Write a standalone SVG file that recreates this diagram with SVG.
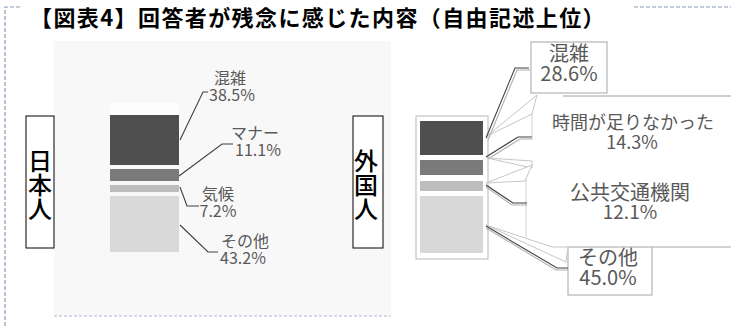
<svg xmlns="http://www.w3.org/2000/svg" width="731" height="326" viewBox="0 0 731 326">
<style>
.frame{stroke:#8a9bbd;stroke-width:1.2;stroke-dasharray:4 2;fill:none}
.lbl{font-family:"Noto Sans CJK JP","Noto Sans",sans-serif;fill:#595959;text-anchor:middle}
.side{font-family:"Noto Sans CJK JP",sans-serif;font-size:24px;font-weight:500;fill:#000;writing-mode:vertical-rl;text-anchor:start}
.lead{stroke:#404040;stroke-width:1.1;fill:none}
.shadow{stroke:#b0b0b0;stroke-width:1.1;fill:none}
.wedge{stroke:#c6c6c6;stroke-width:1;fill:#fff}
.cbox{stroke:#a6a6a6;stroke-width:1;fill:#fff}
</style>
<rect width="731" height="326" fill="#fff"/>
<g id="frame">
<path class="frame" d="M5,326 V7 H22"/>
<path class="frame" d="M634,7 H731"/>
</g>
<text id="title" x="30" y="25.5" font-family="'Noto Sans CJK JP',sans-serif" font-size="22" font-weight="bold" fill="#000" letter-spacing="1.4">【図表4】回答者が残念に感じた内容（自由記述上位）</text>
<g id="panel-left">
<rect x="54" y="41" width="337" height="275" fill="#f8f8f8"/>
<rect x="110" y="103" width="69" height="12" fill="#fdfdfd"/>
<line x1="54" y1="316" x2="391" y2="316" stroke="#c8d0e4" stroke-width="1.5" stroke-dasharray="3 2"/>
</g>
<g id="label-japanese">
<rect x="26" y="116" width="28" height="132" fill="#fff" stroke="#000" stroke-width="1"/>
<text class="side" x="40" y="149">日本人</text>
</g>
<g id="bars-japanese">
<rect x="110" y="115" width="69" height="50" fill="#4f4f4f"/>
<rect x="110" y="169" width="69" height="12" fill="#7a7a7a"/>
<rect x="110" y="185" width="69" height="7" fill="#bdbdbd"/>
<rect x="110" y="196" width="69" height="56" fill="#d9d9d9"/>
</g>
<g id="labels-japanese" font-size="16">
<text class="lbl" y="84"><tspan x="230">混雑</tspan><tspan x="232" dy="17">38.5%</tspan></text>
<text class="lbl" y="139"><tspan x="255">マナー</tspan><tspan x="258" dy="17">11.1%</tspan></text>
<text class="lbl" y="200"><tspan x="218">気候</tspan><tspan x="218" dy="17">7.2%</tspan></text>
<text class="lbl" y="247"><tspan x="245">その他</tspan><tspan x="243" dy="17">43.2%</tspan></text>
</g>
<g id="label-foreign">
<rect x="353" y="116" width="30" height="132" fill="#fff" stroke="#000" stroke-width="1"/>
<text class="side" x="366" y="149">外国人</text>
</g>
<g id="bars-foreign">
<rect x="416" y="116" width="72" height="143" fill="#fff" stroke="#c4c4c4" stroke-width="1.2"/>
<rect x="420" y="121" width="63" height="34" fill="#4f4f4f"/>
<rect x="420" y="160" width="63" height="15" fill="#7a7a7a"/>
<rect x="420" y="181" width="63" height="10" fill="#bdbdbd"/>
<rect x="420" y="196" width="63" height="57" fill="#d8d8d8"/>
</g>
<g id="callouts-foreign">
<rect class="cbox" x="531" y="42" width="76" height="51"/>
<line x1="563" y1="96" x2="731" y2="96" stroke="#bfbfbf" stroke-width="1.5"/>
<line x1="526" y1="165" x2="526" y2="237" stroke="#d0d0d0" stroke-width="1"/>
<rect class="cbox" x="568" y="247" width="84" height="48"/>
<line x1="652" y1="247" x2="731" y2="247" stroke="#a6a6a6" stroke-width="1"/>
</g>
<g id="connectors">
<polygon class="wedge" points="487,136 537,95 532,114"/>
<line x1="532" y1="114" x2="532" y2="137" stroke="#d0d0d0"/>
<polygon class="wedge" points="487,158 532,161 532,168"/>
<polygon class="wedge" points="486,183 532,165 525,181"/>
<polygon class="wedge" points="486,225 552,247 568,247 566,262"/>
<polyline class="shadow" points="488,140 517,70 530,70"/>
<polyline class="lead" points="486,138 515,68 529,68"/>
<polyline class="shadow" points="488,159 520,139 533,139"/>
<polyline class="lead" points="486,157 518,137 532,137"/>
<polyline class="shadow" points="486,187 512,205 527,205"/>
<polyline class="lead" points="486,185 513,203 527,203"/>
<polyline class="shadow" points="486,228 556,270 568,270"/>
<polyline class="lead" points="486,226 557,268 568,268"/>
<polyline class="lead" points="180,140 203,92 208,92"/>
<polyline class="lead" points="179,176 222,144 233,144"/>
<polyline class="lead" points="180,187 187,206 199,206"/>
<polyline class="lead" points="180,225 208,252 218,252"/>
</g>
<g id="labels-foreign" font-size="20">
<text class="lbl" y="61"><tspan x="569">混雑</tspan><tspan x="569" dy="20">28.6%</tspan></text>
<text class="lbl" y="129" font-size="18"><tspan x="633">時間が足りなかった</tspan><tspan x="632" dy="20">14.3%</tspan></text>
<text class="lbl" y="200"><tspan x="630">公共交通機関</tspan><tspan x="630" dy="19" font-size="19">12.1%</tspan></text>
<text class="lbl" y="265"><tspan x="608">その他</tspan><tspan x="608" dy="20">45.0%</tspan></text>
</g>
</svg>
